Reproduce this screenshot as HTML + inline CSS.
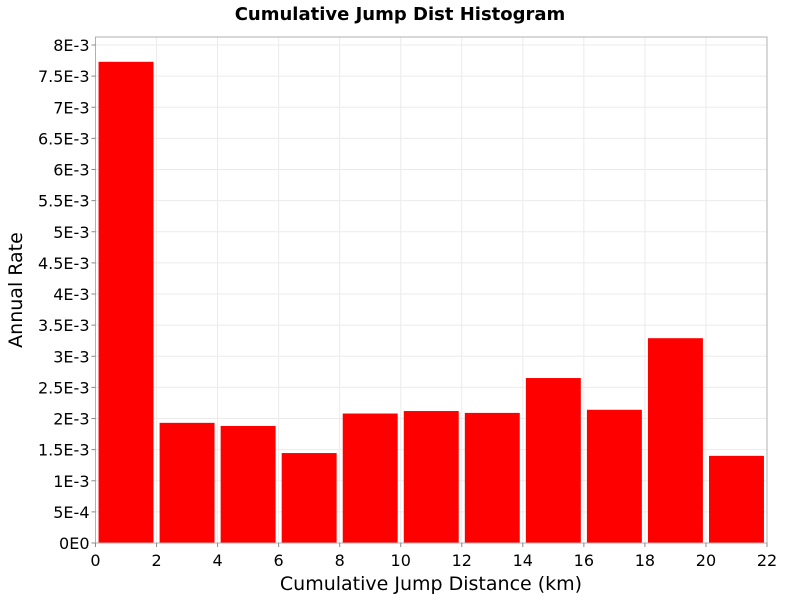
<!DOCTYPE html>
<html><head><meta charset="utf-8"><style>
body{margin:0;background:#fff;font-family:"Liberation Sans","DejaVu Sans",sans-serif}
svg text{font-family:"DejaVu Sans","Liberation Sans",sans-serif}
</style></head><body>
<svg id="c" width="800" height="600"></svg>
<script>
const binStarts=[0,2,4,6,8,10,12,14,16,18,20];
const rates=[7.73e-3,1.93e-3,1.88e-3,1.445e-3,2.08e-3,2.12e-3,2.09e-3,2.65e-3,2.14e-3,3.29e-3,1.40e-3];
const xTicks=[0,2,4,6,8,10,12,14,16,18,20,22];
const yTicks=[0,5e-4,1e-3,1.5e-3,2e-3,2.5e-3,3e-3,3.5e-3,4e-3,4.5e-3,5e-3,5.5e-3,6e-3,6.5e-3,7e-3,7.5e-3,8e-3];
const yLabels=["0E0","5E-4","1E-3","1.5E-3","2E-3","2.5E-3","3E-3","3.5E-3","4E-3","4.5E-3","5E-3","5.5E-3","6E-3","6.5E-3","7E-3","7.5E-3","8E-3"];
const L=95.5,R=767,T=37,B=543;
const X=v=>L+(v/22)*(R-L);
const Y=v=>B-(v/8e-3)*(B-45);
const s=document.getElementById('c');const NS='http://www.w3.org/2000/svg';
function el(t,a,p){const e=document.createElementNS(NS,t);for(const k in a)e.setAttribute(k,a[k]);(p||s).appendChild(e);return e;}
let e=el('rect',{x:L,y:T,width:R-L,height:B-T,fill:'#fff'});


xTicks.forEach(v=>{let g=el('line',{x1:X(v),x2:X(v),y1:T,y2:B,stroke:'#ebebeb'});

});
yTicks.forEach(v=>{let g=el('line',{x1:L,x2:R,y1:Y(v),y2:Y(v),stroke:'#ebebeb'});

});
binStarts.forEach((b,i)=>{let r=el('rect',{x:X(b+0.1),y:Y(rates[i]),width:X(b+1.9)-X(b+0.1),height:B-Y(rates[i]),fill:'#ff0000'});

});
e=el('rect',{x:L,y:T,width:R-L,height:B-T,fill:'none',stroke:'#b0b0b0'});


xTicks.forEach(v=>{el('line',{x1:X(v),x2:X(v),y1:B,y2:B+4,stroke:'#888'});
let t=el('text',{x:X(v),y:B+23,'text-anchor':'middle','font-size':16,fill:'#000'});t.textContent=v;

});
yTicks.forEach((v,i)=>{el('line',{x1:L-4,x2:L,y1:Y(v),y2:Y(v),stroke:'#888'});
let t=el('text',{x:L-6,y:Y(v)+6,'text-anchor':'end','font-size':16,fill:'#000'});t.textContent=yLabels[i];

});
let t=el('text',{x:400,y:20,'text-anchor':'middle','font-size':18,'font-weight':'bold'});t.textContent='Cumulative Jump Dist Histogram';


t=el('text',{x:431,y:590,'text-anchor':'middle','font-size':19});t.textContent='Cumulative Jump Distance (km)';


t=el('text',{x:22,y:290,'text-anchor':'middle','font-size':19,transform:'rotate(-90 22 290)'});t.textContent='Annual Rate';


</script>
</body></html>
